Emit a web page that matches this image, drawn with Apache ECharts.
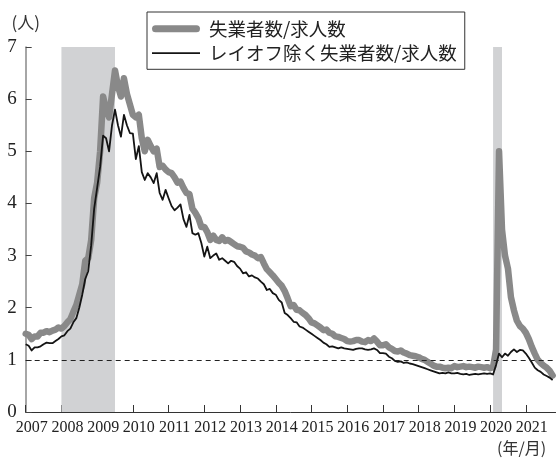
<!DOCTYPE html>
<html>
<head>
<meta charset="utf-8">
<script src="https://cdn.jsdelivr.net/npm/echarts@6/dist/echarts.min.js"></script>
<style>
html,body{margin:0;padding:0;background:#fff;}
#chart{width:558px;height:464px;}
</style>
</head>
<body>
<div id="chart"></div>
<script>
// Tick-label years
const years = [2007, 2008, 2009, 2010, 2011, 2012, 2013, 2014, 2015, 2016, 2017, 2018, 2019, 2020, 2021];
const lastCategory = '2021/11';

// 失業者数/求人数 (monthly, Jan 2007 - Oct 2021)
const seriesTotal = [
  1.50, 1.48, 1.40, 1.45, 1.45, 1.52, 1.52, 1.55, 1.53, 1.56, 1.58, 1.62,
  1.60, 1.65, 1.72, 1.78, 1.92, 2.05, 2.25, 2.45, 2.90, 2.95, 3.30, 4.10,
  4.40, 5.00, 6.05, 5.80, 5.65, 6.10, 6.55, 6.25, 6.05, 6.40, 6.10, 5.90,
  5.70, 5.65, 5.70, 5.25, 5.00, 5.22, 5.10, 5.00, 5.05, 4.70, 4.72, 4.65,
  4.60, 4.58, 4.50, 4.40, 4.42, 4.30, 4.20, 4.18, 3.90, 3.82, 3.72, 3.55,
  3.55, 3.45, 3.30, 3.38, 3.30, 3.28, 3.35, 3.28, 3.30, 3.26, 3.22, 3.18,
  3.17, 3.15, 3.08, 3.06, 3.02, 3.00, 2.95, 2.97, 2.85, 2.74, 2.68, 2.62,
  2.55, 2.48, 2.42, 2.32, 2.18, 2.03, 2.05, 1.96, 1.95, 1.90, 1.86, 1.80,
  1.72, 1.70, 1.66, 1.62, 1.57, 1.58, 1.52, 1.50, 1.45, 1.44, 1.42, 1.40,
  1.36, 1.35, 1.36, 1.38, 1.38, 1.35, 1.34, 1.38, 1.36, 1.41, 1.35, 1.28,
  1.28, 1.30, 1.24, 1.21, 1.17, 1.16, 1.18, 1.14, 1.12, 1.09, 1.08, 1.07,
  1.05, 1.02, 1.00, 0.96, 0.93, 0.89, 0.87, 0.87, 0.85, 0.84, 0.85, 0.84,
  0.88, 0.86, 0.87, 0.88, 0.86, 0.87, 0.86, 0.85, 0.87, 0.86, 0.85, 0.86,
  0.84, 0.86, 1.20, 5.00, 3.50, 3.00, 2.75, 2.20, 1.95, 1.75, 1.65, 1.60,
  1.52, 1.40, 1.25, 1.12, 1.00, 0.94, 0.89, 0.85, 0.79, 0.70
];

// レイオフ除く失業者数/求人数 (monthly, Jan 2007 - Oct 2021)
const seriesExLayoff = [
  1.30, 1.27, 1.18, 1.24, 1.24, 1.26, 1.30, 1.33, 1.32, 1.32, 1.36, 1.40,
  1.45, 1.47, 1.55, 1.60, 1.72, 1.80, 2.00, 2.25, 2.55, 2.70, 3.20, 3.90,
  4.30, 4.70, 5.30, 5.25, 5.00, 5.50, 5.80, 5.50, 5.28, 5.70, 5.50, 5.35,
  5.34, 4.85, 5.10, 4.60, 4.45, 4.58, 4.50, 4.39, 4.58, 4.20, 4.07, 4.26,
  4.10, 3.95, 3.87, 3.92, 3.98, 3.70, 3.55, 3.78, 3.43, 3.40, 3.43, 3.24,
  2.98, 3.17, 2.95, 3.00, 3.04, 2.92, 2.95, 2.90, 2.85, 2.90, 2.88, 2.80,
  2.75, 2.66, 2.68, 2.60, 2.62, 2.58, 2.56, 2.50, 2.45, 2.34, 2.36, 2.28,
  2.25, 2.15, 2.10, 1.90, 1.86, 1.80, 1.73, 1.72, 1.64, 1.62, 1.58, 1.54,
  1.50, 1.46, 1.42, 1.38, 1.33, 1.30, 1.25, 1.26, 1.24, 1.22, 1.24, 1.22,
  1.21, 1.20, 1.19, 1.21, 1.22, 1.22, 1.20, 1.19, 1.20, 1.22, 1.19, 1.13,
  1.13, 1.12, 1.06, 1.03, 0.98, 0.96, 0.97, 0.94, 0.95, 0.93, 0.92, 0.90,
  0.88, 0.86, 0.84, 0.82, 0.80, 0.78, 0.76, 0.74, 0.75, 0.74, 0.76, 0.74,
  0.74, 0.75, 0.73, 0.72, 0.73, 0.71, 0.72, 0.73, 0.72, 0.73, 0.74, 0.73,
  0.74, 0.72, 0.90, 1.12, 1.05, 1.12, 1.08, 1.15, 1.20, 1.15, 1.19, 1.18,
  1.12, 1.04, 0.95, 0.85, 0.80, 0.77, 0.72, 0.69, 0.66, 0.61
];

// Recession periods (shaded)
const recessions = [['2008/01', '2009/07'], ['2020/02', '2020/05']];
const referenceLevel = 1;

const seriesNames = ['失業者数/求人数', 'レイオフ除く失業者数/求人数'];

// Monthly categories
const months = [];
for (const y of years) {
  for (let m = 1; m <= 12; m++) {
    const c = y + '/' + String(m).padStart(2, '0');
    months.push(c);
    if (c === lastCategory) break;
  }
}

const isJan = (i) => i % 12 === 0;
const SERIF = '"Liberation Serif", "DejaVu Serif", serif';

const chart = echarts.init(document.getElementById('chart'), null, {renderer: 'canvas'});
chart.setOption({
  animation: false,
  backgroundColor: '#ffffff',
  grid: {left: 25.7, right: 2.4, top: 47, bottom: 52, containLabel: false},
  legend: {
    left: 147, top: 12, orient: 'vertical',
    borderColor: '#333', borderWidth: 1,
    padding: [7.5, 8, 7, 5],
    itemWidth: 48, itemHeight: 14, itemGap: 5.8,
    symbolKeepAspect: true,
    selectedMode: false,
    textStyle: {fontFamily: 'Noto Sans CJK JP', fontSize: 18.5, color: '#222', padding: [0, 0, 0, 4]},
    data: [
      {name: seriesNames[0], icon: 'path://M3.5,0 L44.5,0 A3.5,3.5 0 0 1 44.5,7 L3.5,7 A3.5,3.5 0 0 1 3.5,0 Z'},
      {name: seriesNames[1], icon: 'path://M0,0 L48,0 L48,1.8 L0,1.8 Z'}
    ]
  },
  xAxis: {
    type: 'category',
    data: months,
    boundaryGap: false,
    axisLine: {show: true, lineStyle: {color: '#333', width: 1}},
    axisTick: {show: true, inside: true, length: 7, interval: isJan, lineStyle: {color: '#333', width: 1}},
    axisLabel: {
      interval: isJan,
      formatter: (v) => v.slice(0, 4),
      fontFamily: SERIF, fontSize: 16, color: '#222',
      margin: 8, padding: [0, 0, 0, 12]
    },
    splitLine: {show: false}
  },
  yAxis: {
    type: 'value', min: 0, max: 7, interval: 1,
    name: '(人)', nameLocation: 'end', nameGap: 16,
    nameTextStyle: {fontFamily: 'Noto Sans CJK JP', fontSize: 17, color: '#333', align: 'center'},
    axisLine: {show: true, lineStyle: {color: '#888', width: 1.5}},
    axisTick: {show: true, inside: true, length: 6, lineStyle: {color: '#444', width: 1}},
    axisLabel: {fontFamily: SERIF, fontSize: 19, color: '#222', margin: 9},
    splitLine: {show: false}
  },
  graphic: [
    {type: 'text', left: 497, top: 440, style: {text: '(年/月)', font: '16px "Noto Sans CJK JP"', fill: '#333'}}
  ],
  series: [
    {
      name: seriesNames[0], type: 'line', data: seriesTotal,
      symbol: 'none', showSymbol: false,
      color: '#898989',
      lineStyle: {color: '#898989', width: 6.5, join: 'round', cap: 'round'},
      markArea: {
        silent: true,
        itemStyle: {color: '#d1d2d4'},
        data: recessions.map(r => [{xAxis: r[0]}, {xAxis: r[1]}])
      },
      z: 2
    },
    {
      name: seriesNames[1], type: 'line', data: seriesExLayoff,
      symbol: 'none', showSymbol: false,
      color: '#141414',
      lineStyle: {color: '#141414', width: 1.8, join: 'round'},
      markLine: {
        silent: true, symbol: 'none',
        label: {show: false},
        lineStyle: {color: '#222', type: [5, 4], width: 1},
        data: [{yAxis: referenceLevel}]
      },
      z: 3
    }
  ]
});
</script>
</body>
</html>
